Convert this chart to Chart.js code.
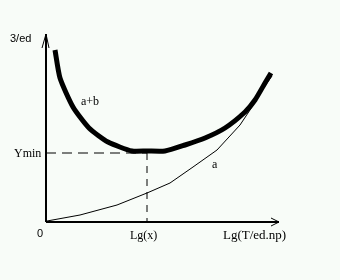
<!DOCTYPE html>
<html>
<head>
<meta charset="utf-8">
<script src="https://cdn.jsdelivr.net/npm/chart.js@4/dist/chart.umd.min.js"></script>
<style>
  html, body { margin: 0; padding: 0; background: #f8fcf8; }
  #wrap { width: 340px; height: 280px; }
</style>
</head>
<body>
<div id="wrap"><canvas id="chart" width="340" height="280"></canvas></div>
<script>
// schematic: cost curve a+b and component a, both
var sumX = [9, 14, 27, 43, 62, 86, 101, 119, 139, 159, 179, 199, 209, 219, 225];
var sumY = [172, 144, 115, 94, 80, 71, 71, 71, 77, 84, 94, 110, 122, 139, 149];
var aX = [1, 34, 71, 101, 124, 147, 171, 194, 204, 214, 226];
var aY = [1, 7, 17, 29, 39, 55, 72, 97, 112, 129, 146];
var xOpt = 101;   // Lg(x)
var yMin = 69;    // Ymin
var xMax = 233;
var yMax = 188;

function pts(xs, ys) {
    return xs.map(function(x, i) { return {x: x, y: ys[i]}; });
}

var axesPlugin = {
    id: "axes",
    beforeDraw: function(chart) {
        var ctx = chart.ctx;
        ctx.save();
        ctx.fillStyle = "#f8fcf8";
        ctx.fillRect(0, 0, chart.width, chart.height);
        ctx.restore();
    },
    afterDraw: function(chart) {
        var ctx = chart.ctx;
        var xs = chart.scales.x, ys = chart.scales.y;
        var x0 = xs.getPixelForValue(0), y0 = ys.getPixelForValue(0);
        var x1 = xs.getPixelForValue(xMax), y1 = ys.getPixelForValue(yMax);
        ctx.save();
        ctx.strokeStyle = "#000";
        ctx.lineWidth = 2;
        ctx.beginPath();
        ctx.moveTo(x0, y0); ctx.lineTo(x1, y0);
        ctx.moveTo(x0, y0); ctx.lineTo(x0, y1);
        ctx.stroke();
        ctx.lineWidth = 1;
        ctx.beginPath();
        ctx.moveTo(x1 - 8, y0 - 4); ctx.lineTo(x1, y0); ctx.lineTo(x1 - 8, y0 + 4);
        ctx.moveTo(x0 - 4, y1 + 14); ctx.lineTo(x0, y1); ctx.lineTo(x0 + 3, y1 + 14);
        ctx.stroke();

        ctx.fillStyle = "#000";
        ctx.textBaseline = "alphabetic";
        ctx.font = "11px 'Liberation Sans', sans-serif";
        ctx.fillText("3/ed", 10, 42);
        ctx.fillText("0", 37, 237);
        ctx.font = "12px 'Liberation Serif', serif";
        ctx.fillText("Lg(x)", 130, 239);
        ctx.fillText("Ymin", 14, 157);
        ctx.fillText("a+b", 81, 105);
        ctx.fillText("a", 212, 168);
        ctx.font = "13px 'Liberation Serif', serif";
        ctx.fillText("Lg(T/ed.np)", 223, 239);
        ctx.restore();
    }
};

new Chart(document.getElementById("chart"), {
    type: "scatter",
    data: {
        datasets: [
            {
                label: "a+b",
                data: pts(sumX, sumY),
                showLine: true,
                borderColor: "#000",
                borderWidth: 5,
                pointRadius: 0,
                tension: 0.2
            },
            {
                label: "a",
                data: pts(aX, aY),
                showLine: true,
                borderColor: "#000",
                borderWidth: 1,
                pointRadius: 0,
                tension: 0
            },
            {
                label: "Ymin",
                data: [{x: 0, y: yMin}, {x: xOpt, y: yMin}],
                showLine: true,
                borderColor: "#000",
                borderWidth: 1,
                borderDash: [10, 6],
                pointRadius: 0
            },
            {
                label: "Lg(x)",
                data: [{x: xOpt, y: yMin}, {x: xOpt, y: 0}],
                showLine: true,
                borderColor: "#000",
                borderWidth: 1,
                borderDash: [7, 6],
                pointRadius: 0
            }
        ]
    },
    options: {
        responsive: false,
        animation: false,
        layout: { padding: { left: 46, right: 61, top: 34, bottom: 58 } },
        plugins: { legend: { display: false }, tooltip: { enabled: false } },
        scales: {
            x: { type: "linear", min: 0, max: xMax, display: false },
            y: { type: "linear", min: 0, max: yMax, display: false }
        }
    },
    plugins: [axesPlugin]
});
</script>
</body>
</html>
